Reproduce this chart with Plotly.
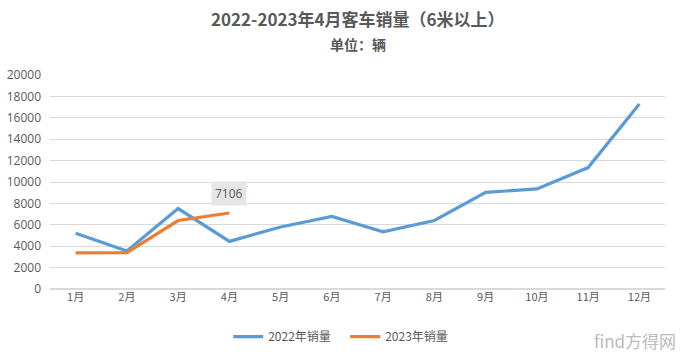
import plotly.graph_objects as go

months = ["1月", "2月", "3月", "4月", "5月", "6月", "7月", "8月", "9月", "10月", "11月", "12月"]
sales_2022 = [5200, 3550, 7520, 4450, 5800, 6780, 5350, 6400, 9030, 9350, 11350, 17300]
sales_2023 = [3380, 3400, 6400, 7106]
y_ticks = [0, 2000, 4000, 6000, 8000, 10000, 12000, 14000, 16000, 18000, 20000]

FONT = "Open Sans, Noto Sans CJK SC, sans-serif"
CJK = "Noto Sans CJK SC, sans-serif"
GREY = "#595959"

idx = list(range(len(months)))

fig = go.Figure()
fig.add_trace(go.Scatter(x=idx, y=sales_2022, mode="lines", name="2022年销量",
                         line=dict(color="#5B9BD5", width=3.2)))
fig.add_trace(go.Scatter(x=idx[:len(sales_2023)], y=sales_2023, mode="lines", name="2023年销量",
                         line=dict(color="#ED7D31", width=3.2)))

fig.add_annotation(x=idx[3], y=sales_2023[3], text=str(sales_2023[3]), showarrow=False,
                   yshift=19, bgcolor="#E7E6E6", borderpad=3,
                   font=dict(family=FONT, size=12, color=GREY))

fig.add_annotation(xref="paper", yref="paper", x=0.5, y=1, yanchor="bottom", yshift=42,
                   text="<b>2022-2023年4月客车销量（6米以上）</b>", showarrow=False,
                   font=dict(family=CJK, size=17, color=GREY))
fig.add_annotation(xref="paper", yref="paper", x=0.5, y=1, yanchor="bottom", yshift=19,
                   text="<b>单位：辆</b>", showarrow=False,
                   font=dict(family=CJK, size=14, color=GREY))

fig.add_annotation(xref="paper", yref="paper", x=1, xshift=13, y=0, yshift=-66,
                   xanchor="right", yanchor="bottom",
                   text="find方得网", showarrow=False,
                   font=dict(family=CJK, size=17, color="#BBBBBB"))

fig.update_layout(
    width=680, height=354,
    margin=dict(l=50, r=15, t=75, b=65, autoexpand=False),
    paper_bgcolor="white", plot_bgcolor="white",
    font=dict(family=FONT, size=12, color=GREY),
    showlegend=True,
    legend=dict(orientation="h", x=0.48, xanchor="center", y=-0.155, yanchor="top",
                entrywidth=72, entrywidthmode="pixels",
                font=dict(family=CJK, size=12, color=GREY)),
    xaxis=dict(range=[-0.5, len(months) - 0.5], tickvals=idx, ticktext=months,
               showgrid=False, showline=False, ticks="", zeroline=False,
               tickfont=dict(family=CJK, size=11, color=GREY)),
    yaxis=dict(range=[0, 20000], tickvals=y_ticks, ticktext=[str(v) for v in y_ticks],
               showgrid=True, gridcolor="#D9D9D9", ticklabelstandoff=8,
               gridwidth=1, zeroline=True, zerolinecolor="#D9D9D9", ticks="",
               tickfont=dict(size=12, color=GREY)),
)

fig.write_html("out.html")
